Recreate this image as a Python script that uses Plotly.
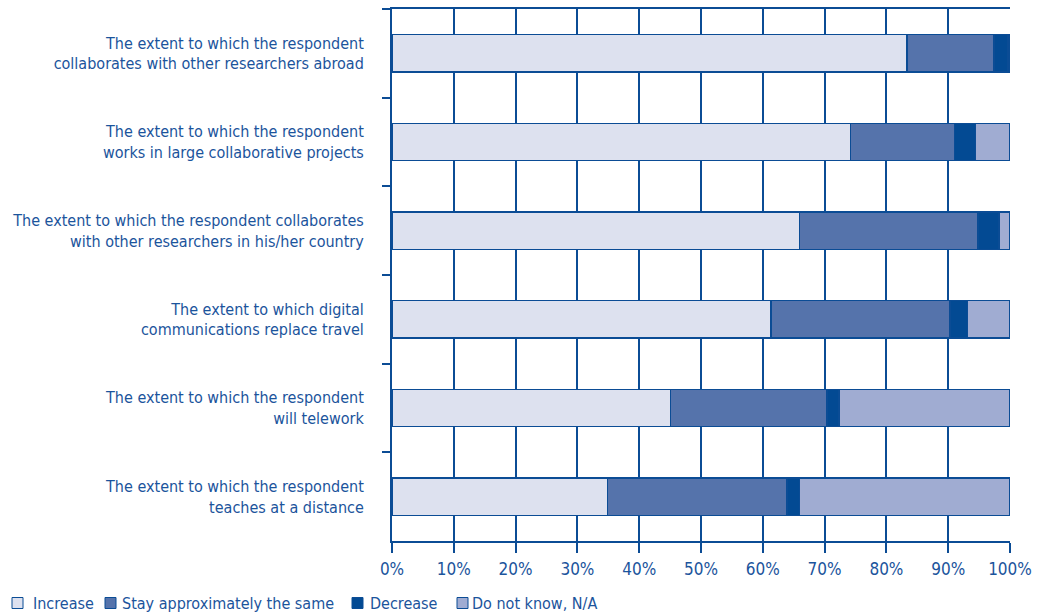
import plotly.graph_objects as go

# Survey items (top to bottom)
categories = [
    "The extent to which the respondent<br>collaborates with other researchers abroad",
    "The extent to which the respondent<br>works in large collaborative projects",
    "The extent to which the respondent collaborates<br>with other researchers in his/her country",
    "The extent to which digital<br>communications replace travel",
    "The extent to which the respondent<br>will telework",
    "The extent to which the respondent<br>teaches at a distance",
]

# Share of respondents (%) per answer
increase = [83.3, 74.2, 65.9, 61.3, 45.1, 34.9]
stay_same = [14.1, 16.8, 28.9, 29.0, 25.3, 29.0]
decrease = [2.3, 3.4, 3.4, 2.8, 1.9, 2.0]
dont_know = [0.3, 5.6, 1.8, 6.9, 27.7, 34.1]

x_ticks = list(range(0, 101, 10))
x_tick_labels = [f"{v}%" for v in x_ticks]

series_names = ["Increase", "Stay approximately the same", "Decrease", "Do not know, N/A"]
series_values = [increase, stay_same, decrease, dont_know]
series_colors = ["#dde1ef", "#5573ab", "#034a93", "#a0acd2"]

AXIS_BLUE = "#0b4c95"
TEXT_BLUE = "#1b549c"
FONT = "DejaVu Sans Condensed, DejaVu Sans, sans-serif"

# Figure geometry (pixels)
W, H = 1049, 614
M_L, M_R, M_T, M_B = 392, 39, 9, 73
PLOT_W = W - M_L - M_R
PLOT_H = H - M_T - M_B

# Legend row along the bottom edge: swatch left edge and label start (px)
LEGEND_SWATCH_X = [12, 105, 352, 457]
LEGEND_TEXT_X = [31, 120, 368, 470]
LEGEND_Y = 603
SWATCH = 11


def px_to_paper_x(px):
    return (px - M_L) / PLOT_W


def px_to_paper_y(py):
    return (H - M_B - py) / PLOT_H


fig = go.Figure()
for name, vals, color in zip(series_names, series_values, series_colors):
    fig.add_trace(go.Bar(
        name=name,
        y=categories,
        x=vals,
        orientation="h",
        marker=dict(color=color, line=dict(color=AXIS_BLUE, width=1.5)),
        width=0.42,
        hoverinfo="x+name",
        showlegend=False,
    ))

# Legend drawn as swatches + labels so it can sit flush with the page edge
for name, color, sx, tx in zip(series_names, series_colors, LEGEND_SWATCH_X, LEGEND_TEXT_X):
    fig.add_shape(
        type="rect", xref="paper", yref="paper",
        x0=px_to_paper_x(sx), x1=px_to_paper_x(sx + SWATCH),
        y0=px_to_paper_y(LEGEND_Y + SWATCH / 2), y1=px_to_paper_y(LEGEND_Y - SWATCH / 2),
        fillcolor=color, line=dict(color=AXIS_BLUE, width=1),
    )
    fig.add_annotation(
        text=name, xref="paper", yref="paper",
        x=px_to_paper_x(tx), y=px_to_paper_y(LEGEND_Y),
        xanchor="left", yanchor="middle", showarrow=False,
        font=dict(size=16, color=TEXT_BLUE),
    )

fig.update_layout(
    barmode="stack",
    width=W,
    height=H,
    margin=dict(l=M_L, r=M_R, t=M_T, b=M_B),
    paper_bgcolor="white",
    plot_bgcolor="white",
    font=dict(family=FONT, size=16, color=TEXT_BLUE),
    showlegend=False,
    xaxis=dict(
        range=[0, 100],
        tickvals=x_ticks,
        ticktext=x_tick_labels,
        tickfont=dict(size=17),
        showgrid=True,
        gridcolor=AXIS_BLUE,
        gridwidth=2,
        showline=True,
        linecolor=AXIS_BLUE,
        linewidth=2,
        mirror=True,
        ticks="outside",
        ticklen=10,
        tickwidth=2,
        tickcolor=AXIS_BLUE,
        ticklabelstandoff=2,
        zeroline=False,
        automargin=False,
        fixedrange=True,
    ),
    yaxis=dict(
        categoryorder="array",
        categoryarray=categories,
        autorange="reversed",
        tickson="boundaries",
        ticks="outside",
        ticklen=8,
        tickwidth=2,
        tickcolor=AXIS_BLUE,
        showline=True,
        linecolor=AXIS_BLUE,
        linewidth=2,
        showgrid=False,
        ticklabelstandoff=23,
        automargin=False,
        fixedrange=True,
    ),
)

fig.write_html("out.html")
